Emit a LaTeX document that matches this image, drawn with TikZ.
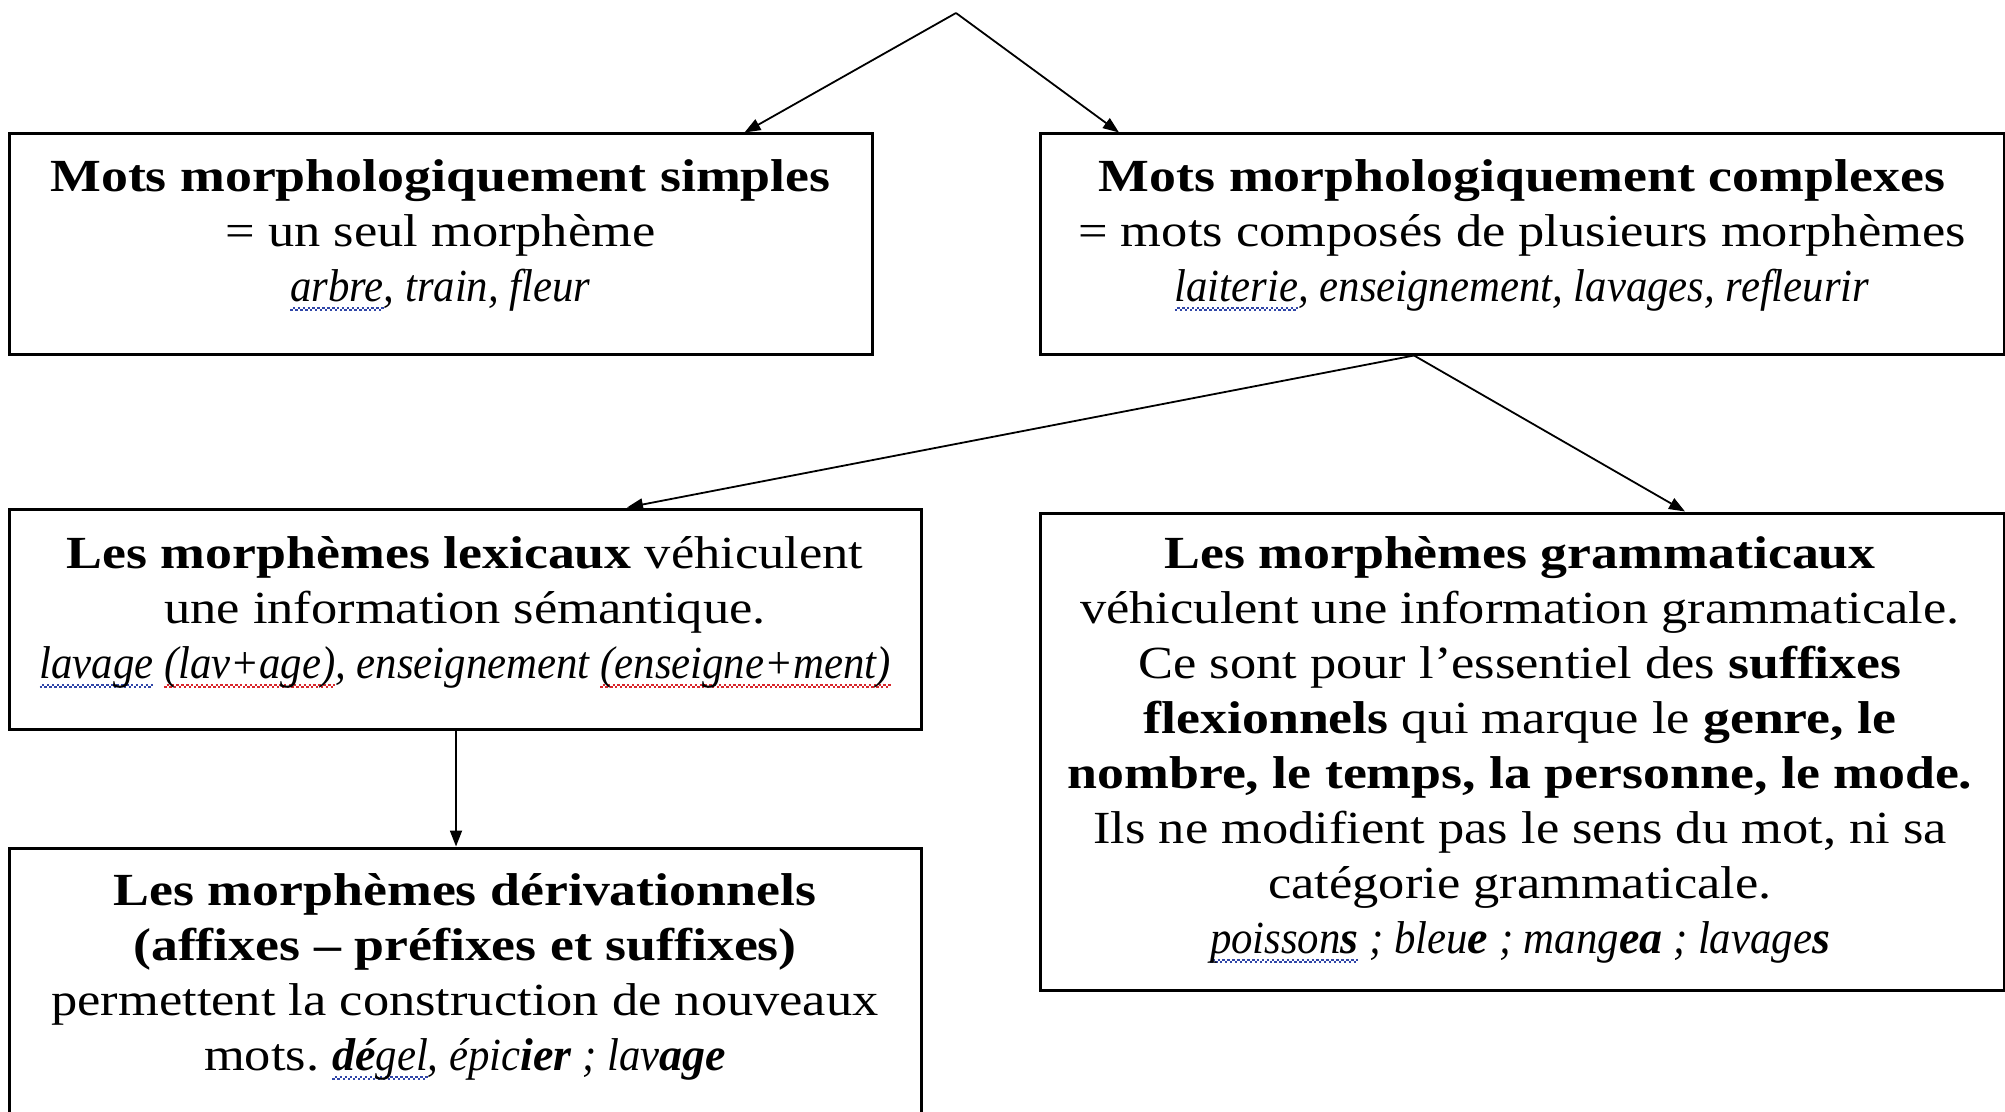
\documentclass[tikz,border=0pt]{standalone}
\usepackage{fontspec}
\setmainfont{Liberation Serif}[
  UprightFeatures={FakeStretch=1.14},
  BoldFeatures={FakeStretch=1.17},
  ItalicFeatures={FakeStretch=0.93},
  BoldItalicFeatures={FakeStretch=1.0}]
\frenchspacing
\usetikzlibrary{arrows.meta}
\definecolor{sqblue}{HTML}{3046A8}
\definecolor{sqred}{HTML}{D8262B}
\newcommand\wavepiece{\hbox{\rule[-4.6pt]{1.2pt}{0.9pt}\rule[-3.6pt]{1.2pt}{0.9pt}}}
\newcommand\squig[2]{\leavevmode\setbox0\hbox{#2}\rlap{\textcolor{#1}{\hbox to\wd0{\xleaders\wavepiece\hfil}}}\box0}
\newcommand\bsq[1]{\squig{sqblue}{#1}}
\newcommand\rsq[1]{\squig{sqred}{#1}}
\newcommand\fst{\rule{0pt}{18pt}}
\tikzset{
  box/.style={draw, line width=1.5pt, inner sep=0pt, fill=none},
  txt/.style={anchor=north, inner sep=0pt, align=center, font=\fontsize{23}{27.5}\selectfont\frenchspacing},
  conn/.style={line width=0.9pt, -{Triangle[length=8pt,width=6pt]}},
}
\begin{document}
\begin{tikzpicture}[x=0.5pt,y=-0.5pt]
\useasboundingbox (0,0) rectangle (2005,1112);
% boxes
\node[box, minimum width=431.5pt, minimum height=110pt] (A) at (440.5,244) {};
\node[box, minimum width=482pt, minimum height=110pt] (B) at (1522,244) {};
\node[box, minimum width=456pt, minimum height=110pt] (C) at (465,619) {};
\node[box, minimum width=482pt, minimum height=238.5pt] (D) at (1522,751.5) {};
\node[box, minimum width=456pt, minimum height=138.5pt] (E) at (465,986.5) {};
% texts
\node[txt] (tA) at (440.5,155) {\fst\textbf{Mots morphologiquement simples}\\= un seul morphème\\\textit{\bsq{arbre}, train, fleur}};
\node[txt] (tB) at (1522,155) {\fst\textbf{Mots morphologiquement complexes}\\= mots composés de plusieurs morphèmes\\\textit{\bsq{laiterie}, enseignement, lavages, refleurir}};
\node[txt] (tC) at (465,532) {\fst\textbf{Les morphèmes lexicaux} véhiculent\\une information sémantique.\\\textit{\bsq{lavage}\ \rsq{(lav+age)}, enseignement \rsq{(enseigne+ment)}}};
\node[txt] (tD) at (1520,532) {\fst\textbf{Les morphèmes grammaticaux}\\véhiculent une information grammaticale.\\Ce sont pour l’essentiel des \textbf{suffixes}\\\textbf{flexionnels} qui marque le \textbf{genre, le}\\\textbf{nombre, le temps, la personne, le mode.}\\Ils ne modifient pas le sens du mot, ni sa\\catégorie grammaticale.\\\textit{\bsq{poisson\textbf{s}}\ ; bleu\textbf{e} ; mang\textbf{ea} ; lavage\textbf{s}}};
\node[txt] (tE) at (465,869) {\fst\textbf{Les morphèmes dérivationnels}\\\textbf{(affixes – préfixes et suffixes)}\\permettent la construction de nouveaux\\mots. \textit{\bsq{\textbf{dé}gel}, épic\textbf{ier} ; lav\textbf{age}}};
% connectors
\coordinate (top) at (956,13);
\draw[conn] (top) -- ([xshift=152pt]A.north);
\draw[conn] (top) -- ([xshift=-201.5pt]B.north);
\coordinate (split) at ([xshift=-54pt]B.south);
\draw[conn] (split) -- ([xshift=81pt]C.north);
\draw[conn] (split) -- ([xshift=81.5pt]D.north);
\draw[conn] ([xshift=-4.5pt]C.south) -- ([xshift=-4.5pt]E.north);
\end{tikzpicture}
\end{document}
